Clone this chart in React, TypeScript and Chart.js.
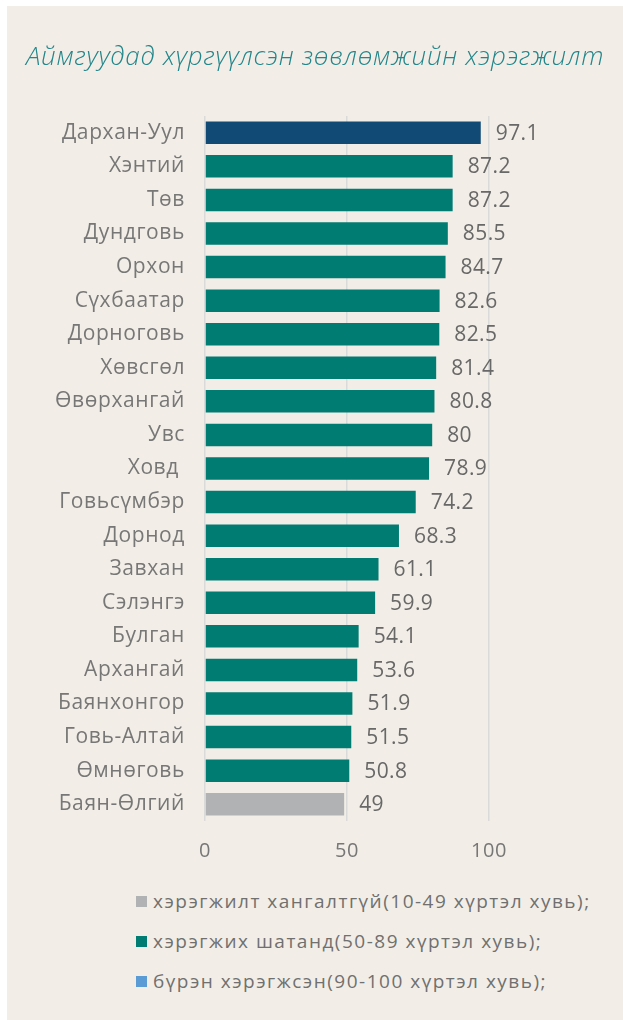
import React, { useEffect, useRef } from "react";
import { Chart, registerables } from "chart.js";

Chart.register(...registerables);

const TITLE = "Аймгуудад хүргүүлсэн зөвлөмжийн хэрэгжилт";
const PROVINCES = [
  "Дархан-Уул",
  "Хэнтий",
  "Төв",
  "Дундговь",
  "Орхон",
  "Сүхбаатар",
  "Дорноговь",
  "Хөвсгөл",
  "Өвөрхангай",
  "Увс",
  "Ховд ",
  "Говьсүмбэр",
  "Дорнод",
  "Завхан",
  "Сэлэнгэ",
  "Булган",
  "Архангай",
  "Баянхонгор",
  "Говь-Алтай",
  "Өмнөговь",
  "Баян-Өлгий",
];
const VALUES = [
  97.1, 87.2, 87.2, 85.5, 84.7, 82.6, 82.5, 81.4, 80.8, 80, 78.9, 74.2, 68.3,
  61.1, 59.9, 54.1, 53.6, 51.9, 51.5, 50.8, 49,
];
const X_TICKS = [0, 50, 100];
const LEGEND_LABELS = [
  "хэрэгжилт хангалтгүй(10-49 хүртэл хувь);",
  "хэрэгжих шатанд(50-89 хүртэл хувь);",
  "бүрэн хэрэгжсэн(90-100 хүртэл хувь);",
];
const LEGEND_COLORS = ["#b1b2b4", "#007c73", "#5b9bd5"];

const FONT = "'Open Sans', 'Noto Sans', sans-serif";
const TEXT_GRAY = "#777777";

function barColor(v: number): string {
  if (v >= 90) return "#124a76";
  if (v >= 50) return "#007c73";
  return "#b1b2b4";
}

const spacing = {
  id: "spacing",
  beforeDraw(chart: any) {
    chart.ctx.letterSpacing = "0.6px";
  },
};

const valueLabels = {
  id: "valueLabels",
  afterDatasetsDraw(chart: any) {
    const ctx = chart.ctx;
    const meta = chart.getDatasetMeta(0);
    ctx.save();
    ctx.letterSpacing = "0.4px";
    ctx.font = `21px ${FONT}`;
    ctx.fillStyle = "#686868";
    ctx.textBaseline = "middle";
    ctx.textAlign = "left";
    meta.data.forEach((el: any, i: number) => {
      ctx.fillText(String(VALUES[i]), el.x + 15, el.y + 1);
    });
    ctx.restore();
  },
};

export default function App() {
  const ref = useRef<HTMLCanvasElement | null>(null);

  useEffect(() => {
    if (!ref.current) return;
    const chart = new Chart(ref.current, {
      type: "bar",
      data: {
        labels: PROVINCES,
        datasets: [
          {
            data: VALUES,
            backgroundColor: VALUES.map(barColor),
            borderWidth: 0,
            categoryPercentage: 1,
            barPercentage: 0.67,
          },
        ],
      },
      options: {
        indexAxis: "y",
        responsive: false,
        animation: false,
        layout: { padding: { left: 0, right: 134, top: 110, bottom: 0 } },
        plugins: {
          legend: { display: false },
          tooltip: { enabled: false },
          title: { display: false },
        },
        scales: {
          x: {
            min: 0,
            max: 100,
            afterBuildTicks(scale: any) {
              scale.ticks = X_TICKS.map((v) => ({ value: v }));
            },
            grid: { color: "#dadada", lineWidth: 1.5, drawTicks: false },
            border: { display: false },
            ticks: {
              color: TEXT_GRAY,
              font: { family: FONT, size: 20 },
              padding: 18,
            },
          },
          y: {
            afterFit(scale: any) {
              scale.width = 198;
            },
            grid: { display: false, drawTicks: false },
            border: { display: false },
            ticks: {
              color: TEXT_GRAY,
              font: { family: FONT, size: 21 },
              padding: 20,
              autoSkip: false,
            },
          },
        },
      },
      plugins: [spacing, valueLabels],
    });
    return () => chart.destroy();
  }, []);

  return (
    <div
      style={{
        position: "fixed",
        left: 7,
        top: 6,
        right: 0,
        bottom: 0,
        background: "#f2eee7",
        overflow: "hidden",
      }}
    >
      <div
        style={{
          position: "absolute",
          left: 0,
          top: 34,
          width: "100%",
          textAlign: "center",
          lineHeight: "30px",
          fontFamily: FONT,
          fontSize: 26,
          fontStyle: "italic",
          fontWeight: 300,
          letterSpacing: "0.75px",
          color: "#23868a",
          whiteSpace: "nowrap",
        }}
      >
        {TITLE}
      </div>
      <canvas ref={ref} width={616} height={875} style={{ display: "block" }} />
      {LEGEND_LABELS.map((label, i) => (
        <div
          key={label}
          style={{
            position: "absolute",
            left: 129,
            top: 875 + i * 40,
            height: 40,
            display: "flex",
            alignItems: "center",
            fontFamily: FONT,
            fontSize: 19,
            letterSpacing: "1.5px",
            color: "#707070",
            whiteSpace: "nowrap",
          }}
        >
          <span
            style={{
              display: "inline-block",
              width: 11,
              height: 11,
              background: LEGEND_COLORS[i],
              marginRight: 6,
            }}
          />
          {label}
        </div>
      ))}
    </div>
  );
}
